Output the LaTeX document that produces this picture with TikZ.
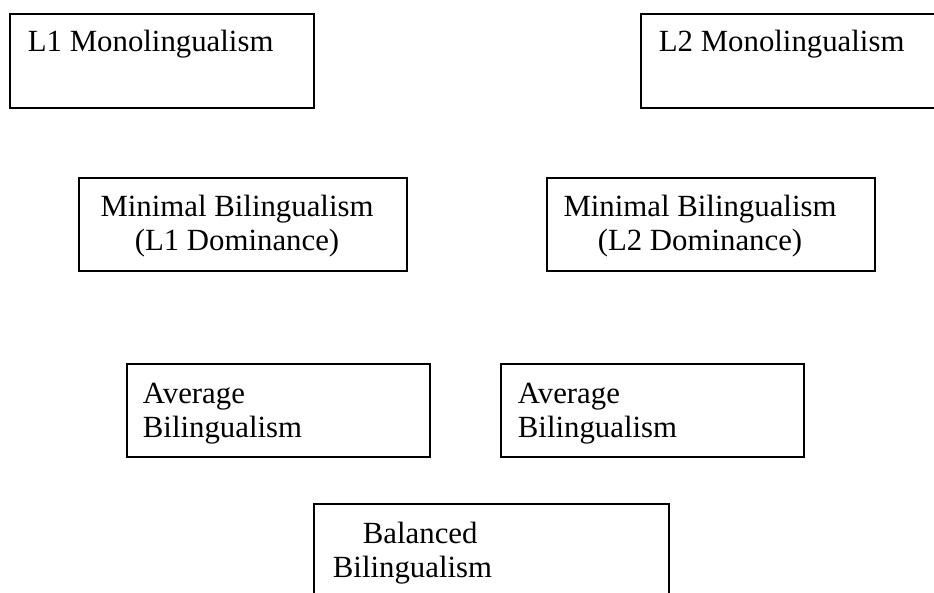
\documentclass[tikz,border=0pt]{standalone}
\usepackage{fontspec}
\setmainfont{Liberation Serif}
\usetikzlibrary{positioning}
\tikzset{
  every picture/.style={line width=1.8pt},
  lvlbox/.style={draw, rectangle, inner sep=0pt, anchor=north west},
  lvltext/.style={inner sep=0pt, font=\fontsize{30.8}{34}\selectfont},
}

\begin{document}
\begin{tikzpicture}[x=1pt, y=-1pt]
  \useasboundingbox (0,0) rectangle (934,593);
  \clip (0,0) rectangle (934,593);
  % monolingual ends
  \node[lvlbox, minimum width=304pt, minimum height=94pt] (L1mono) at (9,13) {};
  \node[lvltext, anchor=base west] (L1monoT) at ([xshift=18pt, yshift=-39pt]L1mono.north west) {L1 Monolingualism};
  \node[lvlbox, minimum width=304pt, minimum height=94pt] (L2mono) at (640,13) {};
  \node[lvltext, anchor=base west] (L2monoT) at ([xshift=18pt, yshift=-39pt]L2mono.north west) {L2 Monolingualism};
  % minimal
  \node[lvlbox, minimum width=328pt, minimum height=93pt] (L1min) at (78,177) {};
  \node[lvltext, anchor=base, align=center] (L1minT) at ([xshift=159pt, yshift=-74pt]L1min.north west) {Minimal Bilingualism\\(L1 Dominance)};
  \node[lvlbox, minimum width=328pt, minimum height=93pt] (L2min) at (546,177) {};
  \node[lvltext, anchor=base, align=center] (L2minT) at ([xshift=154pt, yshift=-74pt]L2min.north west) {Minimal Bilingualism\\(L2 Dominance)};
  % average
  \node[lvlbox, minimum width=303pt, minimum height=93pt] (L1avg) at (126,363) {};
  \node[lvltext, anchor=base west, align=left] (L1avgT) at ([xshift=16pt, yshift=-74pt]L1avg.north west) {Average\\Bilingualism};
  \node[lvlbox, minimum width=303pt, minimum height=93pt] (L2avg) at (500,363) {};
  \node[lvltext, anchor=base west, align=left] (L2avgT) at ([xshift=17pt, yshift=-74pt]L2avg.north west) {Average\\Bilingualism};
  % balanced
  \node[lvlbox, minimum width=355pt, minimum height=100pt] (bal) at (313,503) {};
  \node[lvltext, anchor=base west, align=left] (balT) at ([xshift=19pt, yshift=-74pt]bal.north west) {\hspace*{30pt}Balanced\\Bilingualism};
\end{tikzpicture}
\end{document}
